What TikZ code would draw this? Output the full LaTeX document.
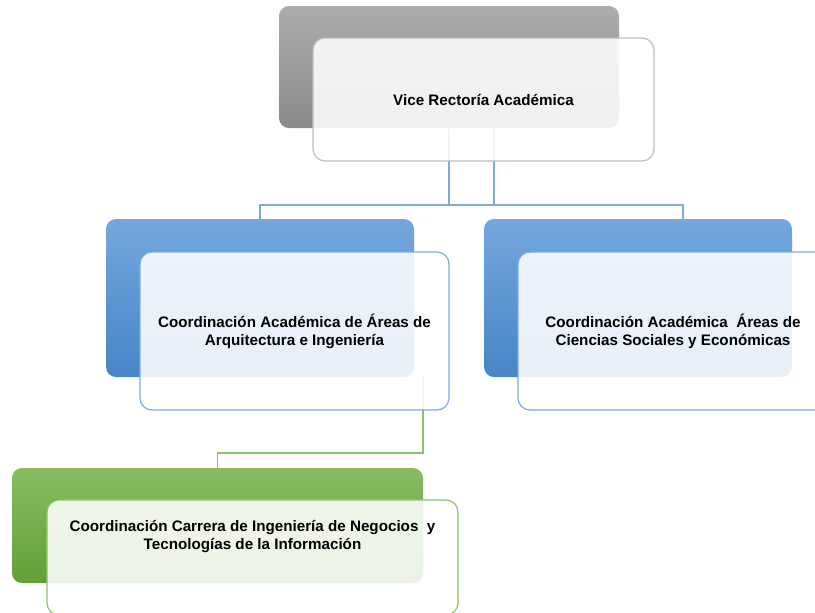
\documentclass[tikz,border=0pt]{standalone}
\usepackage{fontspec}
\setmainfont{Liberation Sans}
\usepackage{tikz}

\definecolor{grayTop}{HTML}{ADADAD}
\definecolor{grayBot}{HTML}{8A8A8A}
\definecolor{grayEdge}{HTML}{BDBDBD}
\definecolor{blueTop}{HTML}{74A7DD}
\definecolor{blueBot}{HTML}{4885C6}
\definecolor{blueEdge}{HTML}{7DAADB}
\definecolor{greenTop}{HTML}{88BC62}
\definecolor{greenBot}{HTML}{62A136}
\definecolor{greenEdge}{HTML}{8FC16C}

\tikzset{
  backbox/.style={rounded corners=7.5pt, inner sep=0pt, outer sep=0pt},
  frontbox/.style={rounded corners=9pt, inner sep=0pt, outer sep=0pt, line width=0.9pt,
    fill=white, fill opacity=0.88, text opacity=1, align=center,
    font=\fontsize{11.4}{13.5}\selectfont\bfseries},
  bline/.style={draw=blueEdge, line width=0.9pt},
  gline/.style={draw=greenEdge, line width=0.9pt}
}

\begin{document}
\begin{tikzpicture}[x=0.75pt,y=-0.75pt]
\useasboundingbox (0,0) rectangle (815,612);

% back boxes
\node[backbox, top color=grayTop, bottom color=grayBot, minimum width=255pt, minimum height=91.5pt] (vrb) at (449,67) {};
\node[backbox, top color=blueTop, bottom color=blueBot, minimum width=231pt, minimum height=118.5pt] (ca) at (260,298) {};
\node[backbox, top color=blueTop, bottom color=blueBot, minimum width=231pt, minimum height=118.5pt] (cs) at (638,298) {};
\node[backbox, top color=greenTop, bottom color=greenBot, minimum width=308.25pt, minimum height=86.25pt] (cg) at (217.5,525.5) {};

% connectors
\coordinate (jt) at (472,205);
\coordinate (jtr) at (494,128);
\coordinate (jr) at (683,219);
\coordinate (jg) at (320,453);
\draw[bline] (vrb.south) |- (jt) -| (jtr);
\draw[bline] (ca.north) |- (jt) -| (jr);
\draw[gline] (ca.south -| cg.east) |- (jg) -| (cg.north);

% front boxes
\node[frontbox, draw=grayEdge, minimum width=255.75pt, minimum height=92.25pt] (vr) at (483.5,99.5) {Vice Rectoría Académica};
\node[frontbox, draw=blueEdge, minimum width=231.75pt, minimum height=118.5pt] (cafr) at (294.5,331) {Coordinación Académica de Áreas de\\Arquitectura e Ingeniería};
\node[frontbox, draw=blueEdge, minimum width=232.5pt, minimum height=118.5pt] (csfr) at (673,331) {Coordinación Académica\ \ Áreas de\\Ciencias Sociales y Económicas};
\node[frontbox, draw=greenEdge, minimum width=308.25pt, minimum height=86.25pt] (cgfr) at (252.5,557.5) {};
\node[align=center, font=\fontsize{11.4}{13.5}\selectfont\bfseries] (cgtx) at (252.5,537) {Coordinación Carrera de Ingeniería de Negocios\ \ y\\Tecnologías de la Información};
\end{tikzpicture}
\end{document}
